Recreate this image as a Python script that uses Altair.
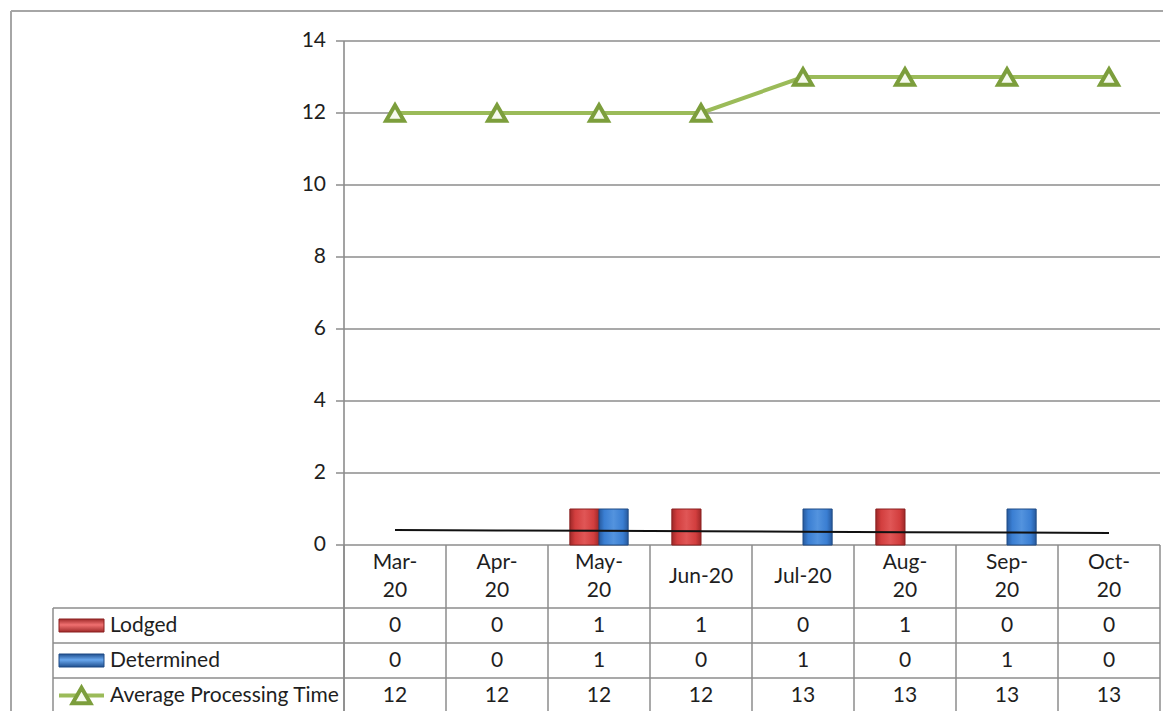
import altair as alt
import numpy as np
import pandas as pd

# ---------------- data ----------------
months = ["Mar-20", "Apr-20", "May-20", "Jun-20", "Jul-20", "Aug-20", "Sep-20", "Oct-20"]
header_labels = ["Mar-\n20", "Apr-\n20", "May-\n20", "Jun-20", "Jul-20", "Aug-\n20", "Sep-\n20", "Oct-\n20"]
lodged = [0, 0, 1, 1, 0, 1, 0, 0]
determined = [0, 0, 1, 0, 1, 0, 1, 0]
avg_time = [12, 12, 12, 12, 13, 13, 13, 13]
series_names = ["Lodged", "Determined", "Average Processing Time"]
y_ticks = [0, 2, 4, 6, 8, 10, 12, 14]

# linear trend line of Lodged
coef = np.polyfit(np.arange(len(lodged)), np.array(lodged, dtype=float), 1)
trend = [float(v) for v in np.polyval(coef, np.arange(len(lodged)))]

bars = pd.DataFrame({
    "month": months * 2,
    "series": ["Lodged"] * len(months) + ["Determined"] * len(months),
    "value": lodged + determined,
})
line_df = pd.DataFrame({"month": months, "apt": avg_time, "trend": trend,
                        "header": header_labels,
                        "wrap": ["\n" in h for h in header_labels],
                        "lodged": lodged, "determined": determined})
ticks_df = pd.DataFrame({"tick": y_ticks})
one = pd.DataFrame({"k": [0]})

# ---------------- layout (plot-area pixel space) ----------------
W, H = 816, 504
FONT = "Lato"
FS = 21
GRID = "#8C8C8C"
TXT = "#1E1E1E"
row_top = [H, 567, 602, 637, 672]          # table row boundaries
row_mid = [(row_top[i] + row_top[i + 1]) / 2 for i in range(4)]
TABLE_LEFT = -291

xscale = alt.Scale(domain=months, paddingInner=0, paddingOuter=0)
yscale = alt.Scale(domain=[0, 14])


def X(**kw):
    return alt.X("month:N", scale=xscale, sort=months, axis=None, **kw)


def Y(field):
    return alt.Y(field, scale=yscale, axis=None)


red_grad = alt.LinearGradient(gradient="linear", x1=0, x2=1, y1=0, y2=0, stops=[
    alt.GradientStop(color="#9E2828", offset=0),
    alt.GradientStop(color="#D23E3E", offset=0.18),
    alt.GradientStop(color="#E05656", offset=0.5),
    alt.GradientStop(color="#D23E3E", offset=0.82),
    alt.GradientStop(color="#9E2828", offset=1)])
blue_grad = alt.LinearGradient(gradient="linear", x1=0, x2=1, y1=0, y2=0, stops=[
    alt.GradientStop(color="#275A9E", offset=0),
    alt.GradientStop(color="#3A7ED2", offset=0.18),
    alt.GradientStop(color="#5393DE", offset=0.5),
    alt.GradientStop(color="#3A7ED2", offset=0.82),
    alt.GradientStop(color="#275A9E", offset=1)])
red_grad_v = alt.LinearGradient(gradient="linear", x1=0, x2=0, y1=0, y2=1, stops=[
    alt.GradientStop(color="#A02A2A", offset=0),
    alt.GradientStop(color="#F07070", offset=0.45),
    alt.GradientStop(color="#A02A2A", offset=1)])
blue_grad_v = alt.LinearGradient(gradient="linear", x1=0, x2=0, y1=0, y2=1, stops=[
    alt.GradientStop(color="#1F4F8F", offset=0),
    alt.GradientStop(color="#6AA8EE", offset=0.45),
    alt.GradientStop(color="#1F4F8F", offset=1)])
RED_D, BLUE_D = "#8A2020", "#1F4B85"

# ---------------- y axis drawn from the y scale ----------------
ticks = alt.Chart(ticks_df)
grid = ticks.mark_rule(color=GRID, strokeWidth=1.5).encode(
    y=Y("tick:Q"), x=alt.value(0), x2=alt.value(W))
tickmarks = ticks.mark_rule(color=GRID, strokeWidth=1.5).encode(
    y=Y("tick:Q"), x=alt.value(-8), x2=alt.value(0))
ticklabels = ticks.mark_text(align="right", baseline="middle", font=FONT,
                             fontSize=FS, color=TXT).encode(
    y=Y("tick:Q"), x=alt.value(-18), text="tick:Q")
domain = alt.Chart(one).mark_rule(color=GRID, strokeWidth=1.6).encode(
    x=alt.value(0), y=alt.value(0), y2=alt.value(row_top[4] + 10))

# ---------------- series ----------------
base_bar = alt.Chart(bars).transform_filter(alt.datum.value > 0)
xoff = alt.XOffset("series:N", scale=alt.Scale(domain=["Lodged", "Determined"],
                                               paddingInner=0, paddingOuter=0.75))
bar_l = base_bar.transform_filter(alt.datum.series == "Lodged").mark_bar(
    fill=red_grad, stroke=RED_D, strokeWidth=1).encode(
    x=X(), xOffset=xoff, y=Y("value:Q"))
bar_d = base_bar.transform_filter(alt.datum.series == "Determined").mark_bar(
    fill=blue_grad, stroke=BLUE_D, strokeWidth=1).encode(
    x=X(), xOffset=xoff, y=Y("value:Q"))

base_line = alt.Chart(line_df)
trend_line = base_line.mark_line(color="#111111", strokeWidth=2).encode(x=X(), y=Y("trend:Q"))
apt_line = base_line.mark_line(color="#9BBB59", strokeWidth=4).encode(x=X(), y=Y("apt:Q"))
pt_kw = dict(shape="triangle-up", size=320, filled=True, fill="#F6FAEE",
             stroke="#7C9E3C", strokeWidth=4, opacity=1)
apt_pts = base_line.mark_point(**pt_kw).encode(x=X(), y=Y("apt:Q"))

# ---------------- data table ----------------
tab = alt.Chart(one)
hlines = []
for yy in row_top[1:]:
    hlines.append(tab.mark_rule(color=GRID, strokeWidth=1.5).encode(
        x=alt.value(TABLE_LEFT), x2=alt.value(W), y=alt.value(yy)))
vline_left = tab.mark_rule(color=GRID, strokeWidth=1.5).encode(
    x=alt.value(TABLE_LEFT), y=alt.value(row_top[1]), y2=alt.value(row_top[4] + 10))
vline_right = tab.mark_rule(color=GRID, strokeWidth=1.5).encode(
    x=alt.value(W), y=alt.value(H), y2=alt.value(row_top[4] + 10))
vlines = base_line.mark_rule(color=GRID, strokeWidth=1.5).encode(
    x=X(bandPosition=0), y=alt.value(H), y2=alt.value(row_top[4] + 10))

text_kw = dict(font=FONT, fontSize=FS, color=TXT, baseline="middle")
LH = 28
header2 = base_line.transform_filter(alt.datum.wrap).mark_text(
    align="center", lineBreak="\n", lineHeight=LH, **text_kw).encode(
    x=X(), y=alt.value(row_mid[0] - LH / 2), text="header:N")
header1 = base_line.transform_filter(~alt.datum.wrap).mark_text(
    align="center", **text_kw).encode(
    x=X(), y=alt.value(row_mid[0]), text="header:N")
vals_l = base_line.mark_text(align="center", **text_kw).encode(
    x=X(), y=alt.value(row_mid[1]), text="lodged:Q")
vals_d = base_line.mark_text(align="center", **text_kw).encode(
    x=X(), y=alt.value(row_mid[2]), text="determined:Q")
vals_a = base_line.mark_text(align="center", **text_kw).encode(
    x=X(), y=alt.value(row_mid[3]), text="apt:Q")

names_df = pd.DataFrame({"name": series_names})
row_labels = []
for i, nm in enumerate(series_names):
    row_labels.append(alt.Chart(names_df).transform_filter(alt.datum.name == nm)
                      .mark_text(align="left", **text_kw)
                      .encode(x=alt.value(-234), y=alt.value(row_mid[i + 1]), text="name:N"))

SYM_X0, SYM_X1 = -285, -240
sym_l = tab.mark_rect(fill=red_grad_v, stroke=RED_D, strokeWidth=1).encode(
    x=alt.value(SYM_X0), x2=alt.value(SYM_X1),
    y=alt.value(row_mid[1] - 6.5), y2=alt.value(row_mid[1] + 6.5))
sym_d = tab.mark_rect(fill=blue_grad_v, stroke=BLUE_D, strokeWidth=1).encode(
    x=alt.value(SYM_X0), x2=alt.value(SYM_X1),
    y=alt.value(row_mid[2] - 6.5), y2=alt.value(row_mid[2] + 6.5))
sym_a_line = tab.mark_rule(color="#9BBB59", strokeWidth=4).encode(
    x=alt.value(SYM_X0), x2=alt.value(SYM_X1), y=alt.value(row_mid[3]))
sym_a_pt = tab.mark_point(**pt_kw).encode(
    x=alt.value((SYM_X0 + SYM_X1) / 2), y=alt.value(row_mid[3]))

# outer chart border (Excel chart area)
border_top = tab.mark_rule(color="#A6A6A6", strokeWidth=2).encode(
    x=alt.value(-333), x2=alt.value(W + 40), y=alt.value(-30))
border_left = tab.mark_rule(color="#A6A6A6", strokeWidth=2).encode(
    x=alt.value(-333), y=alt.value(-30), y2=alt.value(H + 220))

chart = alt.layer(
    border_top, border_left,
    grid, tickmarks, ticklabels,
    *hlines, vline_left, vline_right, vlines, domain,
    bar_l, bar_d, trend_line, apt_line, apt_pts,
    header2, header1, vals_l, vals_d, vals_a, *row_labels,
    sym_l, sym_d, sym_a_line, sym_a_pt,
).properties(
    width=W, height=H,
    autosize=alt.AutoSizeParams(type="none"),
    padding={"left": 336, "top": 33, "right": 3, "bottom": 166},
    background="white",
).configure_view(strokeOpacity=0)

chart.save("out.html", embed_options={"renderer": "svg", "actions": False})
